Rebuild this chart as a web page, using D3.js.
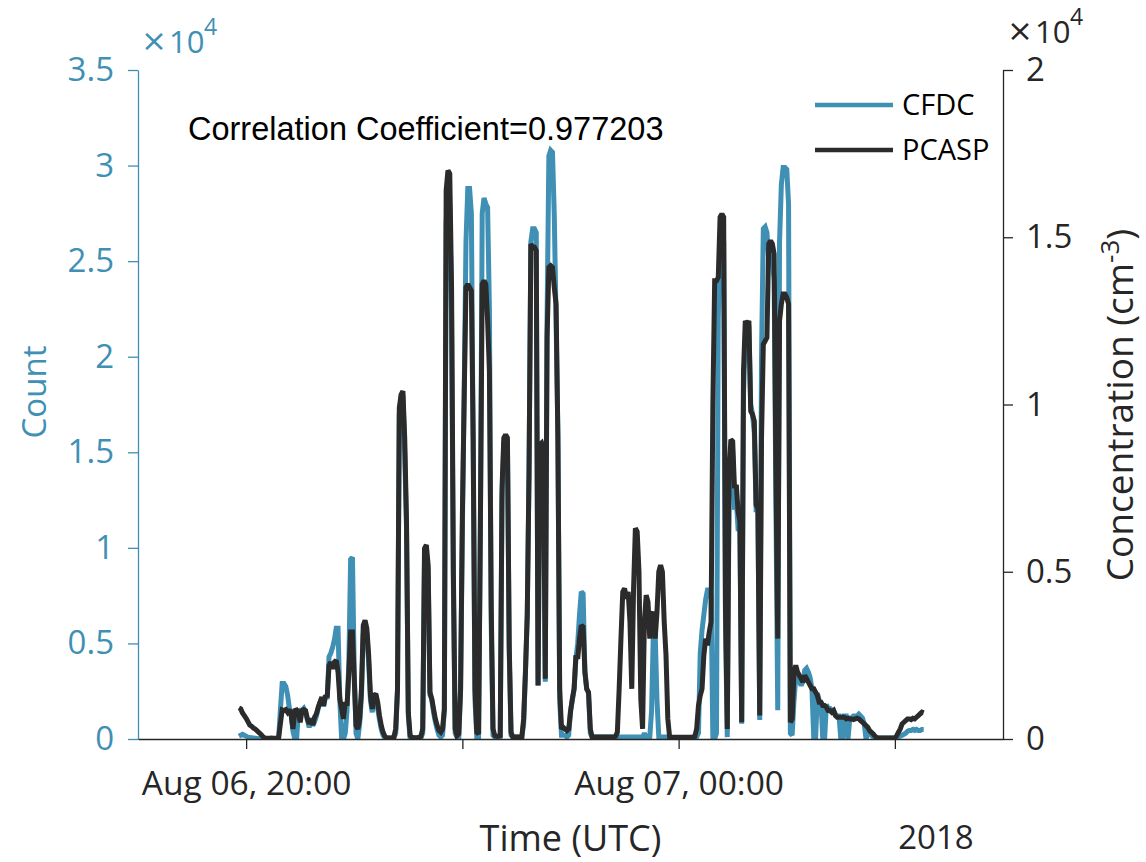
<!DOCTYPE html>
<html>
<head>
<meta charset="utf-8">
<script src="https://cdn.jsdelivr.net/npm/d3@7"></script>
<style>
  html, body { margin: 0; padding: 0; background: #ffffff; }
  svg { display: block; }
</style>
</head>
<body>
<svg id="chart" width="1146" height="862"></svg>
<script>
// One sample per minute, starting at 19:56 UTC on Aug 06 2018
const startTime = "2018-08-06T19:56:00Z";

// CFDC ice nucleating particle counts (left axis)
const cfdcCount = [
  150, 200, 250, 200, 150, 100, 80, 60, 50, 40,
  30, 20, 20, 10, 10, 10, 10, 10, 10, 10,
  10, 10, 0, 1500, 2900, 2900, 2750, 2300, 1600, 1300,
  400, 0, 0, 1400, 1500, 1500, 1600, 1400, 1000, 600,
  1100, 700, 900, 1200, 1600, 1900, 2100, 1700, 2200, 2100,
  4300, 4500, 4800, 5200, 5800, 5800, 2000, 0, 0, 300,
  1500, 4000, 9400, 9500, 3500, 300, 0, 800, 2200, 5500,
  5900, 5500, 4000, 2000, 1400, 2100, 2200, 1600, 1000, 500,
  200, 50, 50, 50, 50, 50, 50, 300, 2500, 17000,
  17900, 18000, 15000, 11000, 1200, 50, 50, 50, 50, 50,
  50, 50, 300, 9600, 9800, 8800, 2300, 2100, 1400, 900,
  500, 200, 100, 200, 1500, 27000, 28500, 28000, 22000, 8000,
  300, 100, 100, 2500, 11000, 18000, 26000, 28800, 28800, 27500,
  15000, 2000, 100, 100, 11000, 27500, 28300, 28000, 27800, 22500,
  6000, 200, 100, 50, 50, 100, 12500, 15500, 15800, 15500,
  4500, 200, 100, 100, 100, 100, 100, 100, 800, 3500,
  6500, 14000, 26000, 26700, 26700, 26500, 2800, 15000, 15200, 15000,
  3000, 22000, 30500, 30800, 30700, 27400, 21900, 16000, 2000, 200,
  200, 200, 100, 200, 1500, 2000, 2600, 4200, 5000, 6500,
  7700, 7600, 3500, 2600, 2400, 300, 100, 100, 100, 100,
  100, 100, 100, 100, 100, 100, 100, 100, 100, 100,
  150, 100, 100, 100, 100, 100, 100, 100, 100, 100,
  100, 100, 100, 100, 100, 300, 100, 100, 100, 1500,
  5700, 5500, 2000, 100, 100, 100, 100, 100, 100, 100,
  80, 80, 80, 80, 80, 80, 80, 80, 80, 80,
  80, 80, 80, 80, 100, 300, 4500, 5700, 6500, 7300,
  7800, 7800, 7500, 0, 0, 300, 22000, 26000, 26500, 26000,
  6000, 100, 13000, 15000, 15000, 12000, 12500, 11000, 11000, 800,
  18000, 21000, 21500, 21500, 17500, 17000, 16000, 12000, 12000, 1000,
  20000, 26700, 26800, 26500, 25000, 25500, 25000, 24000, 12000, 1500,
  26000, 29000, 29900, 29900, 29800, 28000, 300, 200, 2000, 3200,
  3500, 3000, 2800, 3000, 3600, 3700, 3500, 3200, 2600, 0,
  0, 2400, 2000, 1900, 0, 0, 1800, 1600, 1600, 1500,
  1500, 1300, 1200, 1200, 0, 0, 1200, 1200, 0, 1100,
  1100, 1200, 1200, 1200, 1300, 1200, 1100, 800, 0, 300,
  300, 200, 100, 100, 80, 50, 50, 50, 50, 50,
  50, 50, 50, 50, 50, 50, 100, 150, 200, 250,
  300, 400, 450, 450, 500, 450, 500, 450, 450, 500, 500
];

// PCASP aerosol number concentration in cm^-3 (right axis)
const pcaspConc = [
  930, 900, 780, 700, 620, 520, 420, 380, 330, 300,
  250, 200, 150, 90, 40, 20, 20, 20, 30, 20,
  20, 20, 30, 450, 870, 850, 880, 800, 880, 700,
  300, 850, 870, 800, 500, 850, 880, 850, 600, 450,
  600, 420, 650, 750, 950, 1100, 1250, 1000, 1300, 1250,
  2200, 2300, 2100, 2300, 2350, 2000, 1200, 900, 600, 1100,
  1000, 2000, 3200, 3200, 1800, 400, 300, 600, 1500, 3400,
  3550, 3300, 2500, 1300, 900, 1300, 1350, 1100, 700, 400,
  200, 80, 30, 30, 30, 40, 60, 300, 1500, 9900,
  10300, 10400, 9000, 6500, 800, 100, 50, 40, 40, 40,
  50, 80, 300, 5700, 5800, 5200, 1400, 1200, 900, 600,
  400, 250, 200, 300, 900, 16400, 17000, 16900, 13500, 5000,
  300, 100, 150, 1500, 6700, 10200, 13500, 13600, 13500, 13400,
  9000, 1500, 200, 150, 6500, 13600, 13700, 13600, 12500, 11000,
  4000, 300, 100, 80, 80, 100, 7500, 9000, 9100, 9000,
  2800, 200, 60, 60, 60, 60, 60, 60, 600, 2000,
  3700, 8000, 14800, 14700, 14700, 14600, 1600, 8800, 8850, 8700,
  1800, 12000, 14100, 14150, 14100, 13500, 13000, 9000, 1500, 300,
  350, 300, 250, 300, 800, 1200, 1500, 2500, 2400, 3000,
  3400, 3350, 2000, 1500, 1400, 300, 60, 60, 60, 60,
  60, 60, 60, 60, 60, 60, 60, 60, 60, 80,
  200, 1500, 3000, 4400, 4500, 4200, 4400, 3500, 1500, 4500,
  6300, 6200, 5000, 1200, 300, 3500, 4300, 4100, 3000, 3700,
  3800, 3000, 3800, 5000, 5200, 5000, 3500, 2500, 600, 60,
  50, 50, 50, 50, 50, 50, 50, 50, 50, 50,
  50, 50, 60, 80, 300, 1000, 1300, 1500, 2500, 3000,
  2800, 3200, 3500, 10000, 13700, 13700, 13800, 15600, 15700, 15600,
  4000, 300, 8000, 8950, 8900, 7500, 7600, 6800, 6500, 500,
  11000, 12500, 12400, 12500, 9800, 9700, 9500, 7000, 6900, 700,
  9000, 11800, 11900, 12000, 14800, 14900, 14800, 14500, 8000, 3000,
  12500, 13000, 13300, 13300, 13200, 13000, 500, 600, 2000, 2200,
  2000, 1900, 1800, 1700, 1900, 1800, 1700, 1600, 1500, 1500,
  1400, 1300, 1100, 1100, 1000, 1000, 950, 850, 850, 800,
  850, 700, 650, 650, 650, 660, 650, 600, 620, 600,
  600, 580, 600, 620, 600, 550, 500, 450, 400, 350,
  250, 200, 150, 80, 40, 30, 30, 30, 30, 30,
  30, 30, 30, 30, 30, 100, 200, 300, 450, 500,
  550, 600, 600, 580, 620, 600, 650, 700, 750, 800, 780
];

const seriesNames = ["CFDC", "PCASP"];
const countTicks = [0, 5000, 10000, 15000, 20000, 25000, 30000, 35000];
const concTicks = [0, 5000, 10000, 15000, 20000];
const timeTicks = ["2018-08-06T20:00:00Z", "2018-08-06T22:00:00Z",
                   "2018-08-07T00:00:00Z", "2018-08-07T02:00:00Z"];
const timeDomain = ["2018-08-06T19:00:00Z", "2018-08-07T03:00:00Z"];
const correlationText = "Correlation Coefficient=0.977203";

// ---- styling ----
const BLUE = "#3f90b4";
const DARK = "#262626";
const LINE_DARK = "#2b2b2b";
const SANS = "'Open Sans', 'DejaVu Sans', sans-serif";
const LINE_W = 5;

const plot = { left: 138, right: 1003, top: 70, bottom: 739 };

const svg = d3.select("#chart");

const t0 = new Date(startTime);
const times = cfdcCount.map((_, i) => d3.utcMinute.offset(t0, i));

const x = d3.scaleUtc()
  .domain(timeDomain.map(d => new Date(d)))
  .range([plot.left, plot.right]);
const yCount = d3.scaleLinear().domain([0, 35000]).range([plot.bottom, plot.top]);
const yConc = d3.scaleLinear().domain([0, 20000]).range([plot.bottom, plot.top]);

svg.append("defs").append("clipPath").attr("id", "plot-clip")
  .append("rect")
  .attr("x", plot.left).attr("y", plot.top - 5)
  .attr("width", plot.right - plot.left).attr("height", plot.bottom - plot.top + 5);

// ---- data lines ----
const lines = svg.append("g").attr("clip-path", "url(#plot-clip)");

const cfdcLine = d3.line()
  .x((d, i) => x(times[i]))
  .y(d => yCount(d));
const pcaspLine = d3.line()
  .x((d, i) => x(times[i]))
  .y(d => yConc(d));

lines.append("path")
  .datum(cfdcCount)
  .attr("d", cfdcLine)
  .attr("fill", "none")
  .attr("stroke", BLUE)
  .attr("stroke-width", LINE_W)
  .attr("stroke-linejoin", "miter")
  .attr("stroke-miterlimit", 2);

lines.append("path")
  .datum(pcaspConc)
  .attr("d", pcaspLine)
  .attr("fill", "none")
  .attr("stroke", LINE_DARK)
  .attr("stroke-width", LINE_W)
  .attr("stroke-linejoin", "miter")
  .attr("stroke-miterlimit", 2);

// ---- axes ----
function styleAxis(g, color, fontSize) {
  g.select(".domain").attr("stroke", color).attr("stroke-width", 1.3);
  g.selectAll(".tick line").attr("stroke", color).attr("stroke-width", 1.3);
  g.selectAll(".tick text")
    .attr("fill", color)
    .style("font-family", SANS)
    .style("font-size", fontSize + "px");
}

const fmtTenK = v => String(v / 1e4);

const leftAxis = svg.append("g")
  .attr("transform", `translate(${plot.left},0)`)
  .call(d3.axisLeft(yCount).tickValues(countTicks).tickFormat(fmtTenK)
    .tickSize(10).tickSizeOuter(0).tickPadding(14));
styleAxis(leftAxis, BLUE, 33);

const rightAxis = svg.append("g")
  .attr("transform", `translate(${plot.right},0)`)
  .call(d3.axisRight(yConc).tickValues(concTicks).tickFormat(fmtTenK)
    .tickSize(10).tickSizeOuter(0).tickPadding(13));
styleAxis(rightAxis, DARK, 33);

const fmtTime = d3.utcFormat("%b %d, %H:%M");
const bottomAxis = svg.append("g")
  .attr("transform", `translate(0,${plot.bottom})`)
  .call(d3.axisBottom(x).tickValues(timeTicks.map(d => new Date(d)))
    .tickFormat(d => d.getUTCHours() % 4 === 0 ? fmtTime(d) : "")
    .tickSize(10).tickSizeOuter(0).tickPadding(22));
styleAxis(bottomAxis, DARK, 33.5);

// ---- exponent labels (x10^4) ----
function exponent(xPos, yPos, color) {
  const g = svg.append("g").attr("fill", color);
  g.append("text")
    .attr("x", xPos).attr("y", yPos - 2)
    .style("font-family", "'DejaVu Sans', sans-serif")
    .style("font-size", "31px")
    .text("\u00d7");
  g.append("text")
    .attr("x", xPos + 28).attr("y", yPos)
    .style("font-family", SANS)
    .style("font-size", "31px")
    .text("10");
  g.append("text")
    .attr("x", xPos + 63).attr("y", yPos - 18)
    .style("font-family", SANS)
    .style("font-size", "23px")
    .text("4");
}
exponent(141, 53, BLUE);
exponent(1007, 43, DARK);

// ---- axis titles ----
svg.append("text")
  .attr("transform", "translate(46,392) rotate(-90)")
  .attr("text-anchor", "middle")
  .attr("fill", BLUE)
  .style("font-family", SANS)
  .style("font-size", "33px")
  .text("Count");

const concTitle = svg.append("text")
  .attr("transform", "translate(1133,405) rotate(-90)")
  .attr("text-anchor", "middle")
  .attr("fill", DARK)
  .style("font-family", SANS)
  .style("font-size", "37px");
concTitle.append("tspan").text("Concentration (cm");
concTitle.append("tspan").attr("dy", -14).style("font-size", "26px").text("-3");
concTitle.append("tspan").attr("dy", 14).text(")");

svg.append("text")
  .attr("x", (plot.left + plot.right) / 2).attr("y", 851)
  .attr("text-anchor", "middle")
  .attr("fill", DARK)
  .style("font-family", SANS)
  .style("font-size", "36px")
  .text("Time (UTC)");

svg.append("text")
  .attr("x", 936).attr("y", 849)
  .attr("text-anchor", "middle")
  .attr("fill", DARK)
  .style("font-family", SANS)
  .style("font-size", "33px")
  .text(d3.utcFormat("%Y")(x.domain()[1]));

// ---- correlation annotation ----
svg.append("text")
  .attr("x", 188).attr("y", 140)
  .attr("fill", "#000")
  .style("font-family", "'Liberation Sans', Arial, sans-serif")
  .style("font-size", "32.5px")
  .text(correlationText);

// ---- legend ----
const legend = svg.append("g");
const legendColors = [BLUE, LINE_DARK];
seriesNames.forEach((name, i) => {
  const yPos = 105 + i * 45;
  legend.append("line")
    .attr("x1", 815).attr("x2", 893)
    .attr("y1", yPos).attr("y2", yPos)
    .attr("stroke", legendColors[i])
    .attr("stroke-width", 4.5);
  legend.append("text")
    .attr("x", 902).attr("y", yPos)
    .attr("dy", "0.36em")
    .attr("fill", "#000")
    .style("font-family", SANS)
    .style("font-size", "29px")
    .text(name);
});
</script>
</body>
</html>
